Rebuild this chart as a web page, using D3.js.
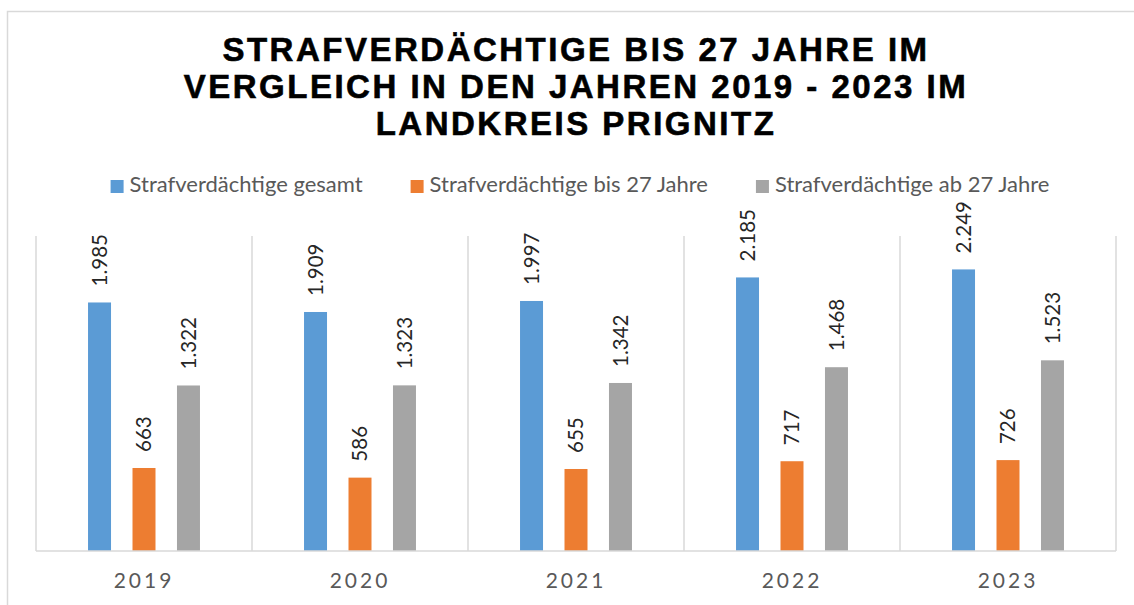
<!DOCTYPE html>
<html>
<head>
<meta charset="utf-8">
<script src="https://cdn.jsdelivr.net/npm/d3@7"></script>
<style>
  html, body { margin: 0; padding: 0; background: #fff; }
  svg { display: block; }
</style>
</head>
<body>
<svg id="chart" width="1134" height="605"></svg>
<script>
// Suspects in the Prignitz district, 2019–2023
const years = ["2019", "2020", "2021", "2022", "2023"];
const seriesNames = [
  "Strafverdächtige gesamt",
  "Strafverdächtige bis 27 Jahre",
  "Strafverdächtige ab 27 Jahre"
];
const totalSuspects = [1985, 1909, 1997, 2185, 2249];
const under27 = [663, 586, 655, 717, 726];
const over27 = [1322, 1323, 1342, 1468, 1523];
const titleLines = [
  "STRAFVERDÄCHTIGE BIS 27 JAHRE IM",
  "VERGLEICH IN DEN JAHREN 2019 - 2023 IM",
  "LANDKREIS PRIGNITZ"
];

const seriesValues = [totalSuspects, under27, over27];
const colors = ["#5B9BD5", "#ED7D31", "#A5A5A5"];

const svg = d3.select("#chart");
const W = 1134, H = 605;

// outer chart frame
svg.append("rect")
  .attr("x", 7.5).attr("y", 11.5)
  .attr("width", W + 20).attr("height", H + 20)
  .attr("fill", "#fff").attr("stroke", "#D9D9D9").attr("stroke-width", 1.5);

// title
const titleG = svg.append("g");
titleLines.forEach((line, i) => {
  titleG.append("text")
    .attr("x", 576).attr("y", 61 + i * 37)
    .attr("text-anchor", "middle")
    .attr("font-family", "Liberation Sans, Arial, sans-serif")
    .attr("font-weight", "bold")
    .attr("font-size", 33)
    .attr("letter-spacing", "2.5px")
    .attr("fill", "#000")
    .attr("stroke", "#000")
    .attr("stroke-width", 0.6)
    .text(line);
});

// plot area
const plot = { left: 36, right: 1116, top: 236, bottom: 551 };

const x0 = d3.scaleBand()
  .domain(years)
  .range([plot.left, plot.right])
  .paddingInner(0).paddingOuter(0);

const x1 = d3.scaleBand()
  .domain(d3.range(seriesNames.length))
  .range([0, x0.bandwidth()])
  .paddingInner(0.483)
  .paddingOuter(1.17);

const y = d3.scaleLinear()
  .domain([0, 2500])
  .range([plot.bottom, plot.top + 2]);

// category separators
const seps = years.map(d => x0(d)).concat([plot.right]);
svg.append("g").selectAll("line")
  .data(seps)
  .join("line")
  .attr("x1", d => d).attr("x2", d => d)
  .attr("y1", plot.top).attr("y2", plot.bottom)
  .attr("stroke", "#D9D9D9").attr("stroke-width", 1.5);

// bars
const groups = svg.append("g").selectAll("g")
  .data(years)
  .join("g")
  .attr("transform", d => `translate(${x0(d)},0)`);

const fmt = v => d3.format(",")(v).replace(/,/g, ".");

groups.each(function(year, yi) {
  const g = d3.select(this);
  const items = seriesValues.map((vals, si) => ({ si, v: vals[yi] }));
  g.selectAll("rect")
    .data(items)
    .join("rect")
    .attr("x", d => x1(d.si))
    .attr("width", x1.bandwidth())
    .attr("y", d => y(d.v))
    .attr("height", d => y(0) - y(d.v))
    .attr("fill", d => colors[d.si]);

  g.selectAll("text.val")
    .data(items)
    .join("text")
    .attr("class", "val")
    .attr("transform", d => `translate(${x1(d.si) + x1.bandwidth() / 2},${y(d.v) - 16}) rotate(-90)`)
    .attr("dy", "0.36em")
    .attr("font-family", "Lato, sans-serif")
    .attr("font-size", 20.5)
    .attr("fill", "#262626")
    .text(d => fmt(d.v));
});

// baseline axis
const xAxis = d3.axisBottom(x0).tickSize(0).tickPadding(0);
const axG = svg.append("g")
  .attr("transform", `translate(0,${plot.bottom})`)
  .call(xAxis);
axG.select(".domain").attr("stroke", "#D9D9D9").attr("stroke-width", 1.5)
  .attr("d", `M${plot.left},0H${plot.right}`);
axG.selectAll(".tick text")
  .attr("y", 0)
  .attr("dy", "1.75em")
  .attr("font-family", "Lato, sans-serif")
  .attr("font-size", 21)
  .attr("letter-spacing", "3px")
  .attr("fill", "#595959");

// legend
const legend = svg.append("g");
const items = legend.selectAll("g")
  .data(seriesNames)
  .join("g");
items.append("rect")
  .attr("width", 13).attr("height", 13)
  .attr("y", -12)
  .attr("fill", (d, i) => colors[i]);
items.append("text")
  .attr("x", 19)
  .attr("font-family", "Lato, sans-serif")
  .attr("font-size", 22)
  .attr("fill", "#595959")
  .text(d => d);
const gap = 48;
let offs = [], total = 0;
items.each(function(d, i) {
  const w = 19 + this.querySelector("text").getComputedTextLength();
  offs.push(total);
  total += w + (i < seriesNames.length - 1 ? gap : 0);
});
const startX = 580 - total / 2;
items.attr("transform", (d, i) => `translate(${startX + offs[i]},192)`);
</script>
</body>
</html>
